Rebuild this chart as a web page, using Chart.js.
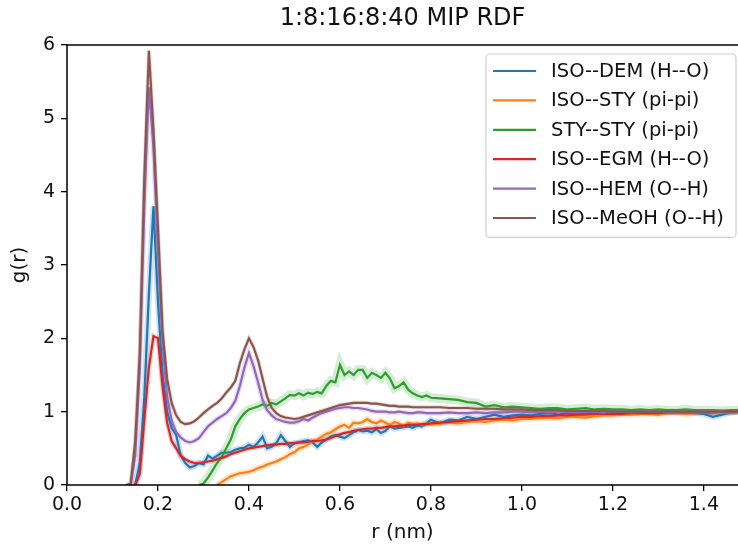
<!DOCTYPE html>
<html>
<head>
<meta charset="utf-8">
<script src="https://cdn.jsdelivr.net/npm/chart.js@4/dist/chart.umd.min.js"></script>
<style>
html, body { margin: 0; padding: 0; background: #fff; overflow: hidden; }
</style>
</head>
<body>
<canvas id="rdf" width="738" height="550"></canvas>
<script>
// r (nm) grid of the RDF bins
var rValues = [
  0.10,0.11,0.12,0.13,0.14,0.15,0.16,0.17,0.18,0.19,
  0.20,0.21,0.22,0.23,0.24,0.25,0.26,0.27,0.28,0.29,
  0.30,0.31,0.32,0.33,0.34,0.35,0.36,0.37,0.38,0.39,
  0.40,0.41,0.42,0.43,0.44,0.45,0.46,0.47,0.48,0.49,
  0.50,0.51,0.52,0.53,0.54,0.55,0.56,0.57,0.58,0.59,
  0.60,0.61,0.62,0.63,0.64,0.65,0.66,0.67,0.68,0.69,
  0.70,0.71,0.72,0.73,0.74,0.75,0.76,0.77,0.78,0.79,
  0.80,0.82,0.84,0.86,0.88,0.90,0.92,0.94,0.96,0.98,
  1.00,1.02,1.04,1.06,1.08,1.10,1.12,1.14,1.16,1.18,
  1.20,1.22,1.24,1.26,1.28,1.30,1.32,1.34,1.36,1.38,
  1.40,1.42,1.44,1.46,1.48
];

var isoDem = [
  0,0,0,0,0,0,0.3,1.2,2.6,3.8,
  2.5,1.5,1.0,0.78,0.68,0.4,0.3,0.24,0.26,0.3,
  0.28,0.4,0.36,0.4,0.44,0.44,0.45,0.48,0.5,0.51,
  0.55,0.52,0.58,0.66,0.5,0.52,0.57,0.68,0.6,0.52,
  0.57,0.58,0.6,0.61,0.58,0.52,0.58,0.62,0.66,0.68,
  0.66,0.64,0.68,0.72,0.75,0.73,0.74,0.72,0.76,0.71,
  0.74,0.8,0.77,0.78,0.79,0.8,0.78,0.81,0.8,0.84,
  0.89,0.84,0.89,0.88,0.93,0.9,0.93,0.96,0.93,0.95,
  0.96,0.95,0.97,0.98,0.96,0.98,0.97,0.99,0.98,0.99,
  1.0,0.99,0.98,1.0,0.99,0.99,1.0,1.0,0.99,0.98,
  0.97,0.93,0.96,0.99,1.0
];

var isoSty = [
  0,0,0,0,0,0,0,0,0,0,
  0,0,0,0,0,0,0,0,0,0,
  0,0,0,0,0.04,0.08,0.12,0.14,0.16,0.17,
  0.18,0.2,0.23,0.25,0.28,0.3,0.32,0.35,0.38,0.42,
  0.45,0.5,0.52,0.55,0.6,0.62,0.66,0.7,0.72,0.76,
  0.8,0.82,0.78,0.85,0.84,0.86,0.9,0.86,0.84,0.88,
  0.85,0.82,0.86,0.84,0.8,0.85,0.83,0.84,0.82,0.84,
  0.83,0.84,0.85,0.84,0.86,0.87,0.86,0.88,0.89,0.88,
  0.9,0.9,0.91,0.92,0.91,0.93,0.93,0.92,0.94,0.95,
  0.95,0.96,0.96,0.97,0.97,0.96,0.98,0.98,0.97,0.98,
  0.99,0.98,0.99,0.99,1.0
];

var stySty = [
  0,0,0,0,0,0,0,0,0,0,
  0,0,0,0,0,0,0,0,0,0,
  0.02,0.1,0.2,0.3,0.38,0.5,0.62,0.8,0.9,0.98,
  1.03,1.05,1.07,1.1,1.08,1.12,1.1,1.14,1.18,1.23,
  1.22,1.25,1.22,1.26,1.24,1.27,1.25,1.35,1.42,1.4,
  1.64,1.5,1.55,1.5,1.57,1.57,1.46,1.53,1.5,1.46,
  1.53,1.45,1.32,1.35,1.4,1.3,1.25,1.22,1.2,1.22,
  1.19,1.18,1.17,1.16,1.13,1.12,1.07,1.09,1.06,1.07,
  1.06,1.05,1.04,1.05,1.05,1.03,1.04,1.05,1.03,1.04,
  1.03,1.03,1.02,1.03,1.02,1.03,1.02,1.02,1.03,1.02,
  1.02,1.02,1.01,1.02,1.02
];

var isoEgm = [
  0,0,0,0,0,0,0.15,0.9,1.6,2.03,
  2.0,1.35,0.85,0.6,0.5,0.4,0.35,0.32,0.3,0.3,
  0.31,0.32,0.33,0.35,0.37,0.39,0.42,0.44,0.46,0.48,
  0.5,0.51,0.52,0.53,0.54,0.55,0.55,0.56,0.56,0.57,
  0.57,0.58,0.58,0.59,0.6,0.6,0.61,0.62,0.64,0.67,
  0.69,0.71,0.72,0.74,0.75,0.76,0.77,0.77,0.78,0.78,
  0.79,0.8,0.8,0.81,0.81,0.82,0.82,0.82,0.83,0.83,
  0.84,0.85,0.86,0.87,0.88,0.89,0.9,0.9,0.91,0.92,
  0.93,0.93,0.94,0.94,0.95,0.95,0.96,0.96,0.97,0.97,
  0.97,0.97,0.98,0.98,0.98,0.98,0.99,0.99,0.99,0.99,
  0.99,0.99,1.0,1.0,1.0
];

var isoHem = [
  0,0,0,0,0,0.4,1.6,3.8,5.42,4.6,
  3.2,1.95,1.2,0.88,0.72,0.65,0.6,0.58,0.6,0.64,
  0.72,0.8,0.85,0.9,0.94,0.98,1.05,1.15,1.35,1.6,
  1.8,1.62,1.4,1.16,1.02,0.95,0.9,0.88,0.86,0.85,
  0.85,0.87,0.9,0.88,0.92,0.95,0.98,1.0,1.02,1.04,
  1.05,1.06,1.06,1.05,1.05,1.04,1.03,1.01,1.0,1.0,
  1.0,0.99,0.99,1.0,0.99,0.98,0.98,0.99,0.99,0.98,
  0.98,0.98,0.99,0.98,0.98,0.99,0.98,0.99,0.99,1.0,
  1.0,0.99,1.0,0.99,1.0,1.0,0.99,1.0,1.0,0.99,
  1.0,1.0,0.99,1.0,1.0,1.0,0.99,1.0,1.0,1.0,
  1.0,1.0,1.0,0.99,1.0
];

var isoMeoh = [
  0,0,0,0,0.02,0.6,1.8,4.2,5.92,4.85,
  3.5,2.1,1.45,1.12,0.95,0.86,0.83,0.84,0.87,0.92,
  0.98,1.03,1.08,1.12,1.18,1.26,1.33,1.42,1.66,1.85,
  2.0,1.88,1.7,1.45,1.2,1.05,0.98,0.94,0.92,0.91,
  0.9,0.91,0.93,0.95,0.97,0.99,1.01,1.03,1.05,1.07,
  1.09,1.1,1.11,1.12,1.12,1.12,1.12,1.11,1.11,1.1,
  1.09,1.08,1.08,1.07,1.07,1.07,1.06,1.06,1.06,1.06,
  1.06,1.06,1.05,1.05,1.05,1.04,1.04,1.04,1.03,1.03,
  1.03,1.02,1.02,1.02,1.02,1.01,1.01,1.01,1.01,1.01,
  1.0,1.0,1.0,1.0,1.0,1.0,1.0,1.0,1.0,1.0,
  1.0,1.0,1.0,1.0,1.0
];

var seriesNames = ["ISO--DEM (H--O)", "ISO--STY (pi-pi)", "STY--STY (pi-pi)",
                   "ISO--EGM (H--O)", "ISO--HEM (O--H)", "ISO--MeOH (O--H)"];
var seriesValues = [isoDem, isoSty, stySty, isoEgm, isoHem, isoMeoh];
var xTicks = [0.0, 0.2, 0.4, 0.6, 0.8, 1.0, 1.2, 1.4];
var yTicks = [0, 1, 2, 3, 4, 5, 6];

var colors = ["#1f77b4", "#ff7f0e", "#2ca02c", "#d62728", "#9467bd", "#8c564b"];
var bandColors = ["rgba(31,119,180,0.22)", "rgba(255,127,14,0.22)", "rgba(44,160,44,0.2)",
                  "rgba(214,39,40,0.22)", "rgba(148,103,189,0.22)", "rgba(140,86,75,0.22)"];
var bandWidths = [6, 6, 9, 5, 5, 4];

Chart.defaults.font.family = "'DejaVu Sans', sans-serif";
Chart.defaults.color = "#111";

// points from the last empty bin onwards (the flat zero part sits under the spine)
function toPoints(vals) {
  var first = 0;
  while (first < vals.length && vals[first] === 0) first++;
  var start = Math.max(first - 1, 0);
  var pts = [];
  for (var i = start; i < rValues.length; i++) pts.push({x: rValues[i], y: vals[i]});
  return pts;
}

var datasets = [];
// shaded bands first (drawn underneath)
seriesValues.forEach(function (vals, i) {
  datasets.push({
    label: "",
    data: toPoints(vals),
    borderColor: bandColors[i],
    borderWidth: bandWidths[i],
    pointRadius: 0,
    tension: 0,
    order: 100 - i
  });
});
seriesValues.forEach(function (vals, i) {
  datasets.push({
    label: seriesNames[i],
    data: toPoints(vals),
    borderColor: colors[i],
    borderWidth: 2.2,
    pointRadius: 0,
    tension: 0,
    order: 10 - i
  });
});

// spines drawn over the data, like matplotlib
var spines = {
  id: "spines",
  afterDatasetsDraw: function (chart) {
    var ctx = chart.ctx, a = chart.chartArea;
    ctx.save();
    ctx.strokeStyle = "#000";
    ctx.lineWidth = 1.5;
    ctx.beginPath();
    ctx.moveTo(a.right + 2, a.top);
    ctx.lineTo(a.left, a.top);
    ctx.lineTo(a.left, a.bottom);
    ctx.lineTo(a.right + 2, a.bottom);
    ctx.stroke();
    ctx.restore();
  }
};

// title centred on the axes and legend box in the upper right
var decorations = {
  id: "decorations",
  afterDraw: function (chart) {
    var ctx = chart.ctx, a = chart.chartArea;
    ctx.save();
    ctx.fillStyle = "#111";
    ctx.font = "24px 'DejaVu Sans'";
    ctx.textAlign = "center";
    ctx.textBaseline = "middle";
    ctx.fillText("1:8:16:8:40 MIP RDF", (a.left + a.right) / 2, 19);

    var boxRight = a.right - 2, boxLeft = boxRight - 250;
    var boxTop = a.top + 9, rowH = 29.4;
    var boxH = rowH * seriesNames.length + 7;
    ctx.beginPath();
    if (ctx.roundRect) ctx.roundRect(boxLeft, boxTop, boxRight - boxLeft, boxH, 4);
    else ctx.rect(boxLeft, boxTop, boxRight - boxLeft, boxH);
    ctx.fillStyle = "rgba(255,255,255,0.85)";
    ctx.fill();
    ctx.strokeStyle = "#d0d0d0";
    ctx.lineWidth = 1.2;
    ctx.stroke();

    ctx.font = "19.5px 'DejaVu Sans'";
    ctx.textAlign = "left";
    seriesNames.forEach(function (name, i) {
      var y = boxTop + 17 + i * rowH;
      ctx.strokeStyle = colors[i];
      ctx.lineWidth = 2.2;
      ctx.beginPath();
      ctx.moveTo(boxLeft + 7, y);
      ctx.lineTo(boxLeft + 50, y);
      ctx.stroke();
      ctx.fillStyle = "#111";
      ctx.fillText(name, boxLeft + 65, y + 1);
    });
    ctx.restore();
  }
};

var ctx = document.getElementById("rdf");
var rdfChart = new Chart(ctx, {
  type: "line",
  data: {datasets: datasets},
  plugins: [spines, decorations],
  options: {
    responsive: false,
    animation: false,
    events: [],
    layout: {padding: {top: 45, right: 0, left: 0, bottom: 0}},
    plugins: {
      legend: {display: false},
      title: {display: false},
      tooltip: {enabled: false}
    },
    scales: {
      x: {
        type: "linear",
        min: 0,
        max: 1.475,
        afterFit: function (s) { s.height = 65; },
        afterBuildTicks: function (s) { s.ticks = xTicks.map(function (v) { return {value: v}; }); },
        ticks: {
          includeBounds: false,
          maxRotation: 0,
          padding: 3,
          font: {size: 19},
          color: "#111",
          callback: function (v) { return Number(v).toFixed(1); }
        },
        grid: {drawOnChartArea: false, drawTicks: true, tickLength: 6, color: "#000", lineWidth: 1.3},
        border: {display: false},
        title: {display: true, text: "r (nm)", font: {size: 20}, color: "#111", padding: {top: 0, bottom: 5}}
      },
      y: {
        min: 0,
        max: 6,
        afterFit: function (s) { s.width = 67; },
        afterBuildTicks: function (s) { s.ticks = yTicks.map(function (v) { return {value: v}; }); },
        ticks: {
          padding: 6,
          font: {size: 19},
          color: "#111",
          callback: function (v) { return String(v); }
        },
        grid: {drawOnChartArea: false, drawTicks: true, tickLength: 6, color: "#000", lineWidth: 1.3},
        border: {display: false},
        title: {display: true, text: "g(r)", font: {size: 20}, color: "#111", padding: {top: 8, bottom: 0}}
      }
    }
  }
});
</script>
</body>
</html>
